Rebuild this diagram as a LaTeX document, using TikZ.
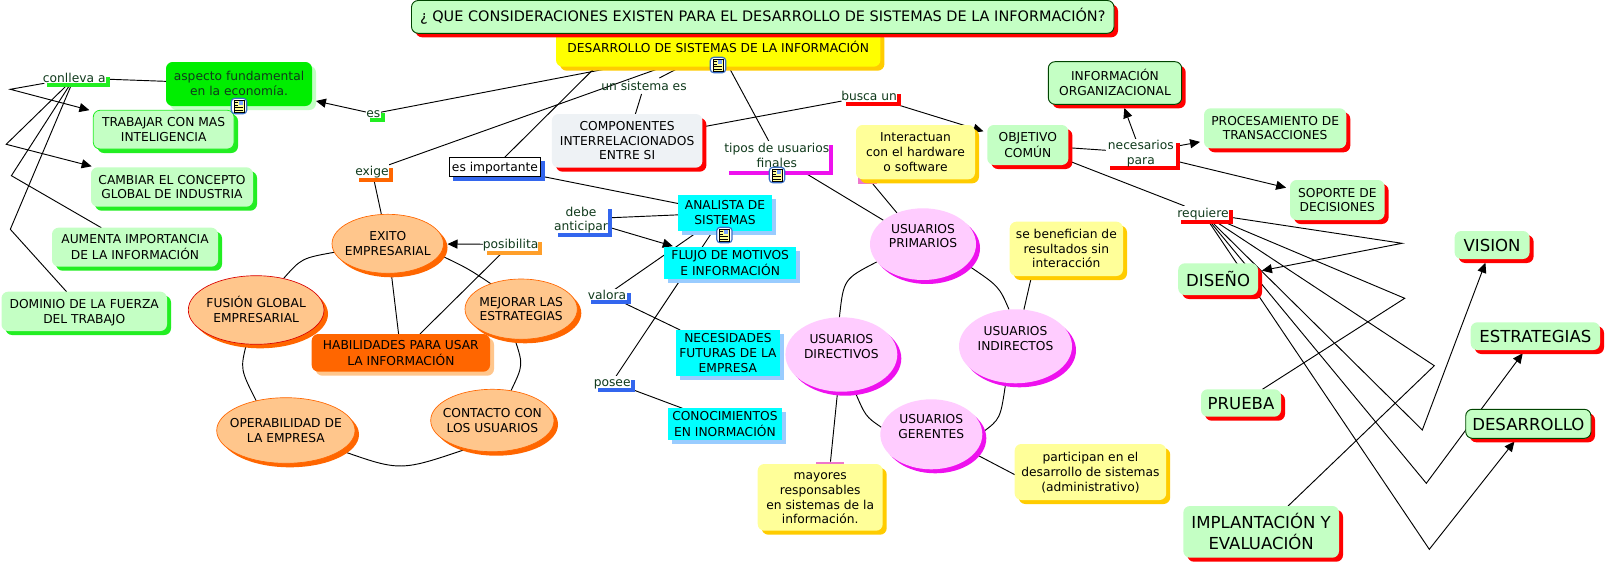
\documentclass[tikz,border=0pt]{standalone}
\usepackage{fontspec}
\setmainfont{DejaVu Sans}
\usetikzlibrary{shapes.geometric,shadows,backgrounds,arrows.meta}
\definecolor{gfill}{HTML}{C4FFC4}
\definecolor{gbright}{HTML}{00EE00}
\definecolor{gshadow}{HTML}{22EE22}
\definecolor{gborder}{HTML}{004400}
\definecolor{yfill}{HTML}{FFFF99}
\definecolor{ystrong}{HTML}{FFFF00}
\definecolor{yshadow}{HTML}{FFCC00}
\definecolor{cfill}{HTML}{00FFFF}
\definecolor{cshadow}{HTML}{99CCFF}
\definecolor{pfill}{HTML}{FFCCFF}
\definecolor{pshadow}{HTML}{EE11EE}
\definecolor{ofill}{HTML}{FFC68C}
\definecolor{oshadow}{HTML}{FF6600}
\definecolor{bshadow}{HTML}{3366EE}
\definecolor{greyfill}{HTML}{EEF2F5}
\definecolor{lbltext}{HTML}{103A1C}
\definecolor{posib}{HTML}{FF9F2A}
\definecolor{pinkbar}{HTML}{EE77CC}
\definecolor{iconblue}{HTML}{3A70C8}
\newcommand{\txtshift}{-3.3pt}
\tikzset{
  shd/.style={general shadow={shadow xshift=3pt,shadow yshift=-3pt,fill=#1}},
  basebox/.style={rectangle,inner sep=0pt,outer sep=0pt,font=\fontsize{9.2}{11}\selectfont,text=black},
  rbox/.style={basebox,rounded corners=5pt},
  gred/.style={rbox,fill=gfill,shd=red},
  gredb/.style={gred,draw=gborder,line width=.7pt},
  ggreen/.style={rbox,fill=gfill,shd=gshadow},
  yel/.style={rbox,fill=yfill,shd=yshadow},
  cy/.style={basebox,fill=cfill,shd=cshadow},
  big/.style={font=\fontsize{12.4}{14.5}\selectfont\renewcommand{\txtshift}{-4.9pt}},
  lab/.style={basebox,fill=white,text=lbltext,shd=#1},
  orell/.style={basebox,ellipse,fill=ofill,draw=orange!80!red,line width=.5pt,shd=oshadow},
  pkell/.style={basebox,ellipse,fill=pfill,shd=pshadow,font=\fontsize{9.2}{11}\selectfont\renewcommand{\txtshift}{2.6pt}},
  con/.style={draw=black,line width=.7pt},
  arr/.style={con,-{Triangle[length=7.5pt,width=6.8pt]},shorten >=3pt},
  iconbox/.style={rectangle,rounded corners=2.5pt,draw=iconblue,line width=.9pt,fill=white,minimum size=11.5pt,inner sep=0pt,outer sep=0pt}
}
\newcommand{\txt}[1]{\makebox[0pt]{\smash{\raisebox{\txtshift}{\begin{tabular}{@{}c@{}}#1\end{tabular}}}}}
\newcommand{\bnode}[7]{%
  \pgfmathsetmacro{\cxx}{(#3+#5)/2}\pgfmathsetmacro{\cyy}{(#4+#6)/2}%
  \node[#1,minimum width={(#5-#3)*0.75pt},minimum height={(#6-#4)*0.75pt}] (#2) at (\cxx,\cyy) {\txt{#7}};}
\newcommand{\noteicon}[3]{%
  \node[iconbox] (#1) at (#2,#3) {};
  \begin{scope}[shift={(#2,#3)}]
    \fill[yfill] (-5,-6) rectangle (5,6);
    \draw[black,line width=.4pt] (-5,-6) rectangle (5,6);
    \fill[cshadow!80!blue] (0,-5) rectangle (4,-1);
    \draw[black,line width=.45pt] (-4,-3.5) -- (-1,-3.5) (-4,-1) -- (-1,-1) (-4,1.5) -- (4,1.5) (-4,4) -- (4,4);
  \end{scope}}
\begin{document}
\begin{tikzpicture}[x=0.75pt,y=-0.75pt]
\path[use as bounding box] (0,0) rectangle (1606,564);
% centre
\bnode{rbox,fill=ystrong,shd=yshadow}{sistemas}{556}{28}{880.4}{66.7}{DESARROLLO DE SISTEMAS DE LA INFORMACIÓN}
\bnode{gredb,font=\fontsize{10.85}{12}\selectfont}{titulo}{411.5}{0.5}{1114}{33.3}{¿ QUE CONSIDERACIONES EXISTEN PARA EL DESARROLLO DE SISTEMAS DE LA INFORMACIÓN?}
% left
\bnode{rbox,fill=gbright,shd=gfill,text=lbltext}{aspecto}{166}{62}{312}{106}{aspecto fundamental\\en la economía.}
\bnode{ggreen,draw=gshadow,line width=.6pt}{trabajar}{93.3}{110.3}{234}{149}{TRABAJAR CON MAS\\INTELIGENCIA}
\bnode{ggreen}{cambiar}{91}{167.3}{253}{206.7}{CAMBIAR EL CONCEPTO\\GLOBAL DE INDUSTRIA}
\bnode{ggreen}{aumenta}{52}{227.7}{218}{266.7}{AUMENTA IMPORTANCIA\\DE LA INFORMACIÓN}
\bnode{ggreen}{dominio}{1.5}{291.7}{167}{331}{DOMINIO DE LA FUERZA\\DEL TRABAJO}
\bnode{lab=gshadow}{conlleva}{43}{72.7}{105.5}{83.3}{conlleva a}
\bnode{lab=gshadow}{es}{366}{109}{380.6}{118.3}{es}
\bnode{lab=oshadow}{exige}{355}{164}{389}{177.7}{exige}
\bnode{lab=bshadow,draw=black,line width=.7pt,text=black}{esimp}{449.4}{157.3}{540.5}{176.7}{es importante}
\bnode{lab=posib}{posibilita}{483}{237.7}{538.2}{251}{posibilita}
% orange ellipses
\bnode{orell}{exito}{332}{214.3}{443.5}{273.3}{EXITO\\EMPRESARIAL}
\bnode{orell,draw=red!85!black}{fusion}{188.3}{275.7}{324}{344.3}{FUSIÓN GLOBAL\\EMPRESARIAL}
\bnode{orell}{mejorar}{465}{279}{577.3}{339.3}{MEJORAR LAS\\ESTRATEGIAS}
\bnode{rbox,fill=oshadow,shd=ofill}{habil}{311.7}{334}{490}{371.7}{HABILIDADES PARA USAR\\LA INFORMACIÓN}
\bnode{orell}{operab}{216.7}{397.7}{355}{463.3}{OPERABILIDAD DE\\LA EMPRESA}
\bnode{orell}{contacto}{430.7}{389.3}{554}{451.7}{CONTACTO CON\\LOS USUARIOS}
% middle
\bnode{basebox,text=lbltext}{unsis}{605}{78}{683}{94}{un sistema es}
\bnode{rbox,fill=greyfill,shd=red}{compon}{551.9}{114}{702.4}{167.7}{COMPONENTES\\INTERRELACIONADOS\\ENTRE SI}
\bnode{cy}{analista}{678}{195}{772}{230.7}{ANALISTA DE\\SISTEMAS}
\bnode{cy}{flujo}{664}{247.3}{796.4}{279}{FLUJO DE MOTIVOS\\E INFORMACIÓN}
\bnode{cy}{necesid}{675.9}{330}{779.9}{376}{NECESIDADES\\FUTURAS DE LA\\EMPRESA}
\bnode{cy}{conocim}{668}{408.3}{781.8}{440}{CONOCIMIENTOS\\EN INORMACIÓN}
\bnode{lab=bshadow}{debe}{554}{205}{608}{233}{debe\\anticipar}
\bnode{lab=bshadow}{valora}{587}{289.3}{627}{300.3}{valora}
\bnode{lab=bshadow}{posee}{593.6}{376.3}{630.7}{387.7}{posee}
\bnode{lab=pshadow}{tipos}{725}{141}{828.5}{170.7}{tipos de usuarios\\finales}
\bnode{lab=red}{busca}{841.5}{90.3}{896.7}{101.7}{busca un}
% pink ellipses and their yellow notes
\bnode{basebox,fill=pinkbar}{hiddena}{857.7}{176}{877}{184}{}
\bnode{basebox,fill=pinkbar}{hiddenb}{816}{461.7}{844.3}{468}{}
\bnode{yel}{interac}{856}{125}{975}{179.3}{Interactuan\\con el hardware\\o software}
\bnode{yel}{mayores}{757.7}{464}{882.7}{530.7}{mayores\\responsables\\en sistemas de la\\información.}
\bnode{yel}{benef}{1009.7}{221.7}{1123}{276}{se benefician de\\resultados sin\\interacción}
\bnode{yel}{partic}{1014.7}{444}{1166.2}{500}{participan en el\\desarrollo de sistemas\\(administrativo)}
\bnode{pkell}{primar}{870}{208.3}{976}{280}{USUARIOS\\PRIMARIOS}
\bnode{pkell}{direct}{785.4}{317.3}{897.3}{391.7}{USUARIOS\\DIRECTIVOS}
\bnode{pkell}{indir}{959}{309.3}{1072}{383.3}{USUARIOS\\INDIRECTOS}
\bnode{pkell}{geren}{880.3}{399.3}{982.3}{469.3}{USUARIOS\\GERENTES}
% right
\bnode{gred}{objetivo}{987.3}{125}{1068.4}{165}{OBJETIVO\\COMÚN}
\bnode{gredb}{inform}{1048.3}{61.7}{1181.7}{104.3}{INFORMACIÓN\\ORGANIZACIONAL}
\bnode{gred}{proces}{1204}{108.3}{1346.3}{148.3}{PROCESAMIENTO DE\\TRANSACCIONES}
\bnode{gred}{soporte}{1290}{180}{1384.6}{220}{SOPORTE DE\\DECISIONES}
\bnode{lab=red}{necesar}{1106}{139.3}{1175.7}{166}{necesarios\\para}
\bnode{lab=red}{requiere}{1177}{206}{1229}{220.3}{requiere}
\bnode{gred,big}{diseno}{1178.2}{263.3}{1258}{295}{DISEÑO}
\bnode{gred,big}{vision}{1454.6}{231}{1529.6}{259}{VISION}
\bnode{gred,big}{prueba}{1201}{389.3}{1281}{416.7}{PRUEBA}
\bnode{gred,big}{estrat}{1470.7}{322.3}{1600}{350}{ESTRATEGIAS}
\bnode{gredb,big}{desarr}{1465.7}{409.3}{1591}{438.3}{DESARROLLO}
\bnode{gred,big}{implant}{1183.3}{506}{1339}{557.7}{IMPLANTACIÓN Y\\EVALUACIÓN}
% icons
\noteicon{icona}{718}{65}
\noteicon{iconb}{239}{106}
\noteicon{iconc}{777}{175}
\noteicon{icond}{724.4}{235}
% bends
\coordinate (wa) at (10.3,89.3);
\coordinate (wb) at (6.2,144.3);
\coordinate (wc) at (11.4,175.7);
\coordinate (wd) at (10.3,229.3);
\coordinate (vd) at (1402,243.3);
\coordinate (vp) at (1404.7,298.3);
\coordinate (vi) at (1434.3,365.7);
\coordinate (vv) at (1422.3,430);
\coordinate (ve) at (1426.3,483.3);
\coordinate (vs) at (1429.3,549.3);
\begin{scope}[on background layer]
\fill[white] (0,0) rectangle (1606,564);
\draw[con] (aspecto) -- (conlleva);
\draw[arr] (conlleva) -- (wa) -- (trabajar);
\draw[arr] (conlleva) -- (wb) -- (cambiar);
\draw[con] (conlleva) -- (wc) -- (aumenta);
\draw[con] (conlleva) -- (wd) -- (dominio);
\draw[con] (sistemas) -- (es);
\draw[arr] (es) -- (aspecto);
\draw[con] (sistemas) -- (exige);
\draw[con] (exige) -- (exito);
\draw[con] (sistemas.189) -- (esimp);
\draw[con] (sistemas) -- (unsis);
\draw[con] (unsis) -- (compon);
\draw[con] (sistemas) -- (tipos);
\draw[con] (tipos) -- (primar);
\draw[con] (compon) -- (busca);
\draw[arr] (busca) -- (objetivo);
\draw[con] (esimp) -- (analista);
\draw[con] (analista) -- (debe);
\draw[arr] (debe) -- (flujo);
\draw[con] (analista) -- (valora);
\draw[con] (valora) -- (necesid);
\draw[con] (analista) -- (posee);
\draw[con] (posee) -- (conocim);
\draw[arr] (posibilita) -- (exito);
\draw[con] (exito) -- (habil);
\draw[con] (posibilita) -- (habil);
\draw[con] (exito.189) .. controls (301.6,258.2) .. (fusion.49);
\draw[con] (exito.-12) .. controls (468,268.5) .. (mejorar.140);
\draw[con] (fusion.254) .. controls (240.3,369.2) .. (operab.135);
\draw[con] (mejorar.-102) .. controls (523.3,365) .. (contacto.58);
\draw[con] (operab.-20) .. controls (400.3,471.4) .. (contacto.228);
\draw[con] (primar.201) .. controls (843.6,279) .. (direct.93);
\draw[con] (primar.-25) .. controls (999,286.2) .. (indir.100);
\draw[con] (indir.255) .. controls (1000.4,419) .. (geren.2);
\draw[con] (direct.-70) .. controls (865.5,416.4) .. (geren.172);
\draw[con] (hiddena.-36) -- (primar);
\draw[con] (direct) -- (hiddenb);
\draw[con] (benef.218) -- (indir);
\draw[con] (geren.-24) -- (partic.182);
\draw[con] (objetivo) -- (necesar);
\draw[arr] (necesar) -- (inform);
\draw[arr] (necesar) -- (proces);
\draw[arr] (necesar) -- (soporte);
\draw[con] (objetivo) -- (requiere);
\draw[arr] (requiere) -- (vd) -- (diseno);
\draw[con] (requiere) -- (vp) -- (prueba);
\draw[con] (requiere) -- (vi) -- (implant);
\draw[arr] (requiere) -- (vv) -- (vision);
\draw[arr] (requiere) -- (ve) -- (estrat);
\draw[arr] (requiere) -- (vs) -- (desarr);
\end{scope}
\end{tikzpicture}
\end{document}
